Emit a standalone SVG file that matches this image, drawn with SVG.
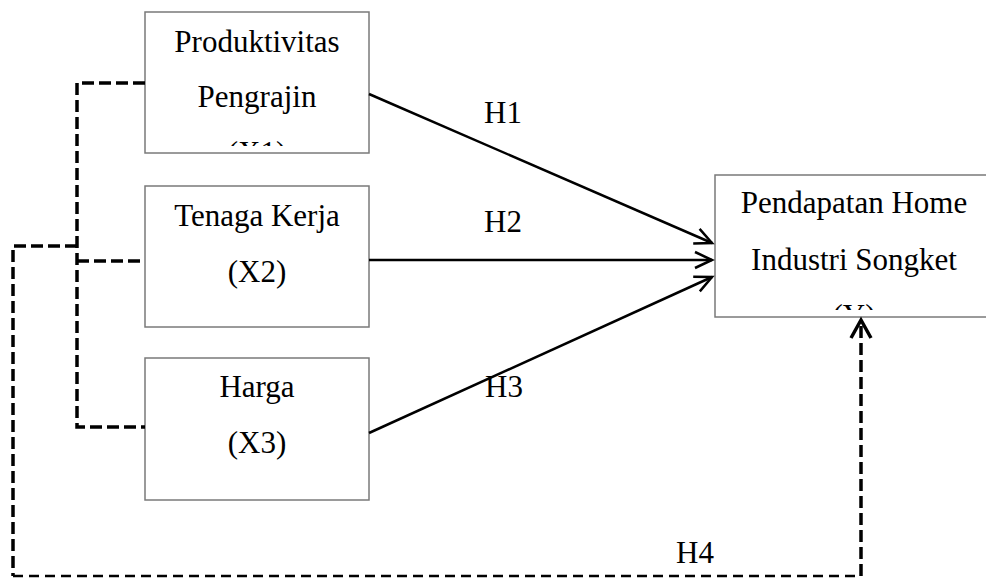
<svg xmlns="http://www.w3.org/2000/svg" width="986" height="578" viewBox="0 0 986 578">
<style>
.box{fill:#fff;stroke:#7a7a7a;stroke-width:1.5}
.t{font-family:"Liberation Serif","Times New Roman",serif;font-size:31px;fill:#000;text-anchor:middle}
.lbl{font-family:"Liberation Serif","Times New Roman",serif;font-size:31px;fill:#000}
.solid{fill:none;stroke:#000;stroke-width:2.5}
.dash{fill:none;stroke:#000;stroke-width:3.5;stroke-dasharray:12 5}
.dash2{fill:none;stroke:#000;stroke-width:2.5;stroke-dasharray:10 6}
</style>
<defs>
<marker id="ah" markerUnits="userSpaceOnUse" markerWidth="24" markerHeight="24" viewBox="-20 -10 24 20" refX="0" refY="0" orient="auto">
<path d="M-17,-8 L0,0 L-17,8" fill="none" stroke="#000" stroke-width="2.5"/>
</marker>
<marker id="ah2" markerUnits="userSpaceOnUse" markerWidth="26" markerHeight="26" viewBox="-22 -12 26 24" refX="0" refY="0" orient="auto">
<path d="M-18,-10 L0,0 L-18,10" fill="none" stroke="#000" stroke-width="3.5"/>
</marker>
<clipPath id="c1"><rect x="145" y="12" width="224" height="134"/></clipPath>
<clipPath id="c4"><rect x="715" y="175" width="280" height="135"/></clipPath>
</defs>
<g id="x1">
<rect class="box" x="145" y="12" width="224" height="141"/>
<g clip-path="url(#c1)">
<text class="t" x="257" y="52">Produktivitas</text>
<text class="t" x="257" y="107">Pengrajin</text>
<text class="t" x="257" y="163">(X1)</text>
</g>
</g>
<g id="x2">
<rect class="box" x="145" y="186" width="224" height="141"/>
<text class="t" x="257" y="226">Tenaga Kerja</text>
<text class="t" x="257" y="282">(X2)</text>
</g>
<g id="x3">
<rect class="box" x="145" y="358" width="224" height="142"/>
<text class="t" x="257" y="397">Harga</text>
<text class="t" x="257" y="453">(X3)</text>
</g>
<g id="y">
<rect class="box" x="715" y="175" width="280" height="142"/>
<g clip-path="url(#c4)">
<text class="t" x="854" y="213">Pendapatan Home</text>
<text class="t" x="854" y="270">Industri Songket</text>
<text class="t" x="854" y="326">(Y)</text>
</g>
</g>
<g id="connectors">
<line class="solid" x1="369" y1="94" x2="712" y2="243" marker-end="url(#ah)"/>
<line class="solid" x1="369" y1="260" x2="712" y2="260" marker-end="url(#ah)"/>
<line class="solid" x1="369" y1="433" x2="712" y2="277" marker-end="url(#ah)"/>
<polyline class="dash" points="145,83 77,83 77,427 145,427"/>
<line class="dash" x1="77" y1="261" x2="145" y2="261"/>
<polyline class="dash" points="77,246 13,246 13,576"/>
<line class="dash2" x1="13" y1="576" x2="861" y2="576"/>
<line class="dash" x1="861" y1="576" x2="861" y2="320" marker-end="url(#ah2)"/>
</g>
<g id="labels">
<text class="lbl" x="484" y="123">H1</text>
<text class="lbl" x="484" y="232">H2</text>
<text class="lbl" x="485" y="397">H3</text>
<text class="lbl" x="676" y="563">H4</text>
</g>
</svg>
